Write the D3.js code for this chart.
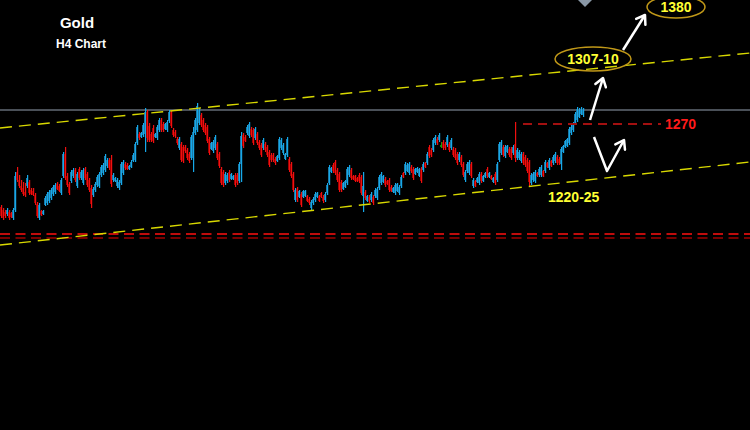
<!DOCTYPE html>
<html>
<head>
<meta charset="utf-8">
<script src="https://cdn.jsdelivr.net/npm/d3@7"></script>
<style>
  html, body { margin: 0; padding: 0; background: #000; }
  svg { display: block; }
</style>
</head>
<body>
<div id="chart"></div>
<script>
// H4 bars, one per index, prices
var opens = [
  1187,1184,1182,1180,1182,1181,1176,1184,1222,1214,
  1208,1206,1202,1208,1212,1204,1203,1199,1190,1176,
  1183,1180,1189,1191,1193,1196,1200,1202,1210,1208,
  1201,1218,1240,1218,1210,1213,1218,1224,1208,1225,
  1216,1211,1225,1220,1214,1206,1199,1204,1209,1208,
  1219,1221,1224,1228,1234,1234,1214,1213,1208,1206,
  1211,1221,1230,1229,1225,1227,1233,1234,1251,1260,
  1257,1259,1260,1282,1268,1260,1266,1257,1256,1264,
  1274,1270,1265,1264,1273,1282,1264,1262,1255,1246,
  1250,1247,1247,1244,1240,1236,1236,1261,1264,1271,
  1279,1274,1269,1267,1255,1245,1243,1246,1250,1240,
  1225,1222,1211,1213,1222,1215,1215,1219,1219,1213,
  1230,1259,1257,1261,1258,1265,1264,1256,1260,1252,
  1249,1246,1250,1247,1242,1239,1239,1235,1233,1236,
  1246,1241,1235,1239,1235,1230,1220,1194,1205,1197,
  1200,1197,1198,1198,1195,1186,1191,1194,1197,1198,
  1201,1197,1194,1201,1211,1222,1229,1232,1224,1220,
  1212,1205,1207,1211,1219,1224,1218,1218,1216,1219,
  1217,1198,1202,1193,1197,1194,1197,1198,1196,1206,
  1211,1212,1215,1213,1214,1207,1202,1201,1203,1201,
  1208,1221,1221,1223,1221,1227,1225,1220,1222,1218,
  1225,1224,1231,1231,1247,1244,1244,1251,1255,1254,
  1249,1252,1250,1249,1250,1246,1245,1244,1240,1234,
  1237,1230,1214,1223,1221,1230,1208,1213,1212,1211,
  1220,1213,1217,1225,1217,1218,1212,1220,1214,1234,
  1241,1247,1238,1242,1245,1245,1241,1250,1236,1236,
  1233,1240,1237,1234,1232,1211,1214,1213,1221,1219,
  1219,1223,1223,1231,1226,1233,1231,1233,1237,1235,
  1230,1242,1247,1248,1251,1261,1264,1271,1274,1277,
  1280,1279
];
var highs = [
  1189,1186,1184,1186,1184,1182,1186,1222,1227,1219,
  1214,1212,1211,1219,1214,1206,1206,1201,1192,1191,
  1184,1184,1198,1202,1204,1206,1209,1211,1212,1210,
  1216,1242,1247,1221,1212,1224,1226,1226,1222,1227,
  1224,1226,1227,1222,1216,1209,1207,1212,1219,1222,
  1229,1231,1240,1236,1236,1239,1221,1217,1216,1214,
  1232,1234,1232,1231,1229,1234,1241,1252,1269,1262,
  1262,1271,1286,1284,1271,1262,1269,1261,1269,1276,
  1276,1272,1271,1274,1284,1284,1266,1264,1257,1257,
  1252,1249,1249,1246,1242,1259,1267,1276,1291,1286,
  1281,1276,1271,1269,1257,1252,1254,1259,1252,1242,
  1227,1224,1222,1221,1224,1221,1219,1221,1221,1232,
  1262,1261,1259,1269,1272,1267,1266,1267,1262,1254,
  1251,1256,1252,1249,1244,1241,1241,1237,1239,1257,
  1256,1251,1241,1257,1237,1232,1222,1206,1207,1204,
  1202,1204,1204,1199,1197,1194,1197,1202,1202,1199,
  1202,1199,1202,1211,1229,1227,1231,1234,1226,1222,
  1214,1212,1214,1227,1229,1226,1219,1219,1217,1221,
  1219,1222,1204,1199,1199,1202,1199,1206,1207,1219,
  1222,1219,1217,1214,1216,1209,1207,1211,1211,1209,
  1219,1222,1232,1231,1232,1229,1227,1226,1227,1226,
  1227,1232,1232,1242,1249,1246,1256,1259,1257,1261,
  1252,1254,1252,1259,1252,1256,1247,1246,1242,1242,
  1239,1232,1224,1232,1234,1232,1216,1214,1217,1222,
  1222,1219,1222,1227,1222,1219,1217,1222,1232,1252,
  1254,1249,1249,1249,1247,1247,1249,1272,1246,1244,
  1242,1242,1239,1236,1234,1221,1222,1224,1222,1227,
  1229,1224,1234,1232,1236,1234,1239,1242,1239,1237,
  1247,1249,1254,1256,1267,1269,1272,1282,1287,1286,
  1287,1286
];
var lows = [
  1176,1174,1176,1178,1174,1176,1174,1182,1212,1206,
  1202,1198,1197,1206,1199,1199,1198,1189,1176,1174,
  1178,1179,1188,1189,1191,1194,1198,1200,1204,1202,
  1199,1216,1214,1207,1199,1211,1216,1212,1206,1214,
  1214,1209,1214,1207,1202,1186,1197,1202,1207,1206,
  1217,1219,1222,1226,1224,1207,1212,1212,1206,1204,
  1209,1219,1224,1224,1224,1226,1232,1232,1249,1254,
  1256,1257,1242,1252,1252,1252,1251,1256,1254,1262,
  1262,1262,1264,1262,1271,1266,1257,1256,1249,1244,
  1232,1231,1241,1234,1231,1234,1222,1259,1262,1269,
  1267,1262,1259,1251,1239,1244,1241,1244,1234,1226,
  1209,1207,1209,1211,1212,1214,1214,1207,1209,1211,
  1212,1246,1252,1259,1256,1257,1249,1254,1249,1244,
  1237,1244,1242,1237,1227,1232,1232,1229,1232,1234,
  1244,1239,1234,1237,1222,1216,1202,1192,1192,1196,
  1187,1196,1197,1192,1189,1184,1189,1192,1196,1192,
  1196,1191,1192,1199,1209,1221,1221,1219,1212,1202,
  1202,1204,1206,1209,1217,1214,1214,1212,1212,1211,
  1199,1182,1194,1192,1191,1192,1189,1196,1194,1204,
  1209,1211,1207,1209,1202,1202,1201,1199,1202,1199,
  1206,1216,1219,1222,1219,1221,1214,1219,1221,1217,
  1211,1222,1226,1229,1236,1237,1242,1249,1249,1252,
  1246,1244,1244,1247,1242,1244,1237,1234,1229,1232,
  1227,1217,1212,1221,1219,1216,1206,1207,1211,1209,
  1211,1212,1216,1216,1216,1214,1211,1209,1212,1232,
  1239,1237,1236,1241,1237,1234,1239,1232,1234,1234,
  1231,1229,1227,1221,1208,1209,1212,1211,1217,1217,
  1217,1217,1221,1226,1224,1227,1229,1231,1229,1229,
  1224,1241,1246,1247,1249,1259,1262,1269,1272,1276,
  1279,1277
];
var closes = [
  1178,1176,1178,1184,1176,1177,1184,1218,1214,1208,
  1204,1200,1199,1216,1201,1200,1199,1191,1178,1189,
  1179,1183,1196,1200,1202,1204,1207,1209,1205,1203,
  1214,1240,1216,1209,1201,1222,1224,1214,1220,1216,
  1222,1224,1216,1209,1204,1190,1205,1210,1217,1220,
  1227,1229,1238,1234,1226,1210,1219,1216,1214,1212,
  1230,1232,1226,1225,1228,1232,1239,1250,1267,1256,
  1261,1269,1282,1256,1254,1254,1253,1260,1267,1274,
  1264,1264,1270,1272,1282,1268,1259,1258,1251,1255,
  1234,1233,1243,1236,1233,1257,1262,1274,1288,1284,
  1269,1264,1261,1253,1241,1251,1252,1257,1236,1228,
  1211,1209,1220,1219,1214,1220,1218,1209,1211,1230,
  1258,1248,1253,1267,1270,1259,1251,1265,1251,1246,
  1239,1254,1244,1239,1229,1234,1234,1231,1238,1255,
  1254,1249,1240,1255,1224,1218,1204,1204,1194,1203,
  1189,1203,1203,1193,1191,1192,1195,1200,1201,1193,
  1197,1193,1200,1209,1227,1226,1223,1221,1214,1204,
  1204,1211,1213,1225,1227,1216,1215,1213,1213,1213,
  1201,1208,1196,1198,1193,1200,1191,1204,1205,1217,
  1220,1218,1209,1210,1204,1203,1206,1209,1210,1207,
  1217,1217,1230,1229,1230,1223,1216,1225,1226,1225,
  1213,1230,1227,1240,1238,1239,1254,1257,1251,1259,
  1249,1246,1246,1257,1244,1254,1239,1236,1231,1240,
  1229,1219,1222,1230,1232,1218,1214,1208,1216,1220,
  1213,1218,1221,1218,1221,1215,1216,1211,1230,1250,
  1252,1239,1247,1248,1239,1236,1247,1236,1244,1242,
  1240,1231,1229,1223,1212,1219,1220,1222,1218,1225,
  1227,1218,1232,1227,1234,1228,1237,1240,1231,1231,
  1245,1248,1253,1255,1265,1267,1270,1280,1285,1284,
  1285,1284
];

// levels and drawn lines, [bar index, price]
var greyLevel = 1284;
var redLevels = [1160, 1156];
var target1270 = { from: 261, to: 330, price: 1270 };
var upperChannel = [[-0.5, 1266], [374.5, 1341]];
var lowerChannel = [[-0.5, 1149], [374.5, 1232]];

var labels = [
  { text: "1270", i: 332, p: 1270, color: "#ff1a1a", anchor: "start" },
  { text: "1220-25", i: 273.5, p: 1197, color: "#ffff33", anchor: "start" }
];
var targets = [
  { text: "1307-10", i: 296, p: 1335, rx: 38, ry: 12 },
  { text: "1380", i: 337.5, p: 1387, rx: 29, ry: 11 }
];
var arrows = [
  [[294.5, 1274], [301, 1316]],
  [[311, 1344], [322, 1379]],
  [[296.5, 1257], [303, 1223], [311.5, 1254]]
];

var w = 750, h = 430;

var x = d3.scaleLinear().domain([0, 375]).range([1, 751]);
var y = d3.scaleLinear().domain([964, 1394]).range([430, 0]);

var svg = d3.select("#chart")
  .append("svg")
  .attr("width", w)
  .attr("height", h)
  .style("background", "#000");

var defs = svg.append("defs");
defs.append("marker")
  .attr("id", "head")
  .attr("viewBox", "-10 -7 12 14")
  .attr("markerUnits", "userSpaceOnUse")
  .attr("markerWidth", 12)
  .attr("markerHeight", 14)
  .attr("refX", 0)
  .attr("refY", 0)
  .attr("orient", "auto")
  .append("path")
  .attr("d", "M-8,-5.5 L0,0 L-8,5.5")
  .attr("fill", "none")
  .attr("stroke", "#fff")
  .attr("stroke-width", 2.5)
  .attr("stroke-linecap", "round")
  .attr("stroke-linejoin", "round");

// grey level line
svg.append("line")
  .attr("x1", 0).attr("x2", w)
  .attr("y1", Math.round(y(greyLevel))).attr("y2", Math.round(y(greyLevel)))
  .attr("stroke", "#4a5058")
  .attr("stroke-width", 2);

// red dashed support lines
svg.selectAll("line.red")
  .data(redLevels)
  .enter()
  .append("line")
  .attr("class", "red")
  .attr("x1", 0).attr("x2", w)
  .attr("y1", function(d) { return y(d); })
  .attr("y2", function(d) { return y(d); })
  .attr("stroke", function(d, i) { return i === 0 ? "#ff1010" : "#a00000"; })
  .attr("stroke-width", 1.6)
  .attr("stroke-dasharray", "10,5.5");

// candles
var bars = opens.map(function(o, i) {
  return { i: i, o: o, h: highs[i], l: lows[i], c: closes[i] };
});

function bright(d) { return d.c > d.o ? "#16a8ea" : d.c < d.o ? "#f01010" : "#10a010"; }
function dark(d) { return d.c > d.o ? "#1b7aa6" : d.c < d.o ? "#a20000" : "#0a8a0a"; }

var candle = svg.append("g").selectAll("g")
  .data(bars)
  .enter()
  .append("g");

candle.append("rect")
  .attr("x", function(d) { return Math.round(x(d.i)) - 1; })
  .attr("width", 2)
  .attr("y", function(d) { return y(Math.max(d.o, d.c)); })
  .attr("height", function(d) { return Math.max(2, Math.abs(y(d.o) - y(d.c))); })
  .attr("fill", dark);

candle.append("rect")
  .attr("x", function(d) { return Math.round(x(d.i)); })
  .attr("width", 1.2)
  .attr("y", function(d) { return y(d.h); })
  .attr("height", function(d) { return y(d.l) - y(d.h); })
  .attr("fill", bright);

// channel
var line = d3.line()
  .x(function(d) { return x(d[0]); })
  .y(function(d) { return y(d[1]); });

svg.selectAll("path.channel")
  .data([upperChannel, lowerChannel])
  .enter()
  .append("path")
  .attr("class", "channel")
  .attr("d", line)
  .attr("fill", "none")
  .attr("stroke", "#d8d800")
  .attr("stroke-width", 1.4)
  .attr("stroke-dasharray", "12,7");

// 1270 level
svg.append("line")
  .attr("x1", x(target1270.from)).attr("x2", x(target1270.to))
  .attr("y1", y(target1270.price)).attr("y2", y(target1270.price))
  .attr("stroke", "#a31010")
  .attr("stroke-width", 2)
  .attr("stroke-dasharray", "9,6");

svg.selectAll("text.lbl")
  .data(labels)
  .enter()
  .append("text")
  .attr("class", "lbl")
  .attr("x", function(d) { return x(d.i); })
  .attr("y", function(d) { return y(d.p); })
  .attr("dy", "0.36em")
  .attr("text-anchor", function(d) { return d.anchor; })
  .attr("font-family", "'Liberation Sans', Arial, sans-serif")
  .attr("font-weight", "bold")
  .attr("font-size", "14px")
  .attr("fill", function(d) { return d.color; })
  .text(function(d) { return d.text; });

// target ellipses
var tg = svg.selectAll("g.target")
  .data(targets)
  .enter()
  .append("g")
  .attr("class", "target");

tg.append("ellipse")
  .attr("cx", function(d) { return x(d.i); })
  .attr("cy", function(d) { return y(d.p); })
  .attr("rx", function(d) { return d.rx; })
  .attr("ry", function(d) { return d.ry; })
  .attr("fill", "none")
  .attr("stroke", "#c09818")
  .attr("stroke-width", 1.5);

tg.append("text")
  .attr("x", function(d) { return x(d.i); })
  .attr("y", function(d) { return y(d.p); })
  .attr("dy", "0.36em")
  .attr("text-anchor", "middle")
  .attr("font-family", "'Liberation Sans', Arial, sans-serif")
  .attr("font-weight", "bold")
  .attr("font-size", "14px")
  .attr("fill", "#ffff33")
  .text(function(d) { return d.text; });

// arrows
svg.selectAll("path.arrow")
  .data(arrows)
  .enter()
  .append("path")
  .attr("class", "arrow")
  .attr("d", line)
  .attr("fill", "none")
  .attr("stroke", "#fff")
  .attr("stroke-width", 2.5)
  .attr("stroke-linejoin", "round")
  .attr("marker-end", "url(#head)");

// small diamond cut by the top edge
svg.append("path")
  .attr("d", "M" + x(292) + "," + (y(1394) - 7) + " l7,7 l-7,7 l-7,-7 z")
  .attr("fill", "#8a98a6");

// title
svg.append("text")
  .attr("x", 77).attr("y", 28)
  .attr("text-anchor", "middle")
  .attr("font-family", "'Liberation Sans', Arial, sans-serif")
  .attr("font-weight", "bold")
  .attr("font-size", "15px")
  .attr("fill", "#fff")
  .text("Gold");

svg.append("text")
  .attr("x", 81).attr("y", 48)
  .attr("text-anchor", "middle")
  .attr("font-family", "'Liberation Sans', Arial, sans-serif")
  .attr("font-weight", "bold")
  .attr("font-size", "12px")
  .attr("fill", "#fff")
  .text("H4 Chart");
</script>
</body>
</html>
